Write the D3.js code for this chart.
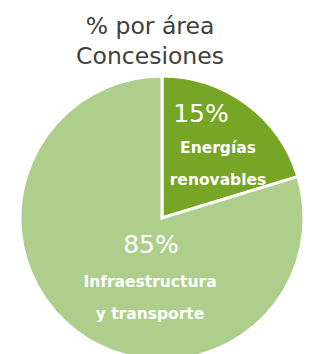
<!DOCTYPE html>
<html>
<head>
<meta charset="utf-8">
<script src="https://cdn.jsdelivr.net/npm/d3@7"></script>
<style>
  body { margin: 0; background: #fff; }
  text { font-family: 'DejaVu Sans', Verdana, sans-serif; }
</style>
</head>
<body>
<div id="chart"></div>
<script>
// slice shares as drawn in the picture; printed labels are as in the original
let categories = ['Energías renovables', 'Infraestructura y transporte']
let shares = [20.3, 79.7]
let pctLabels = ['15%', '85%']
let nameLines = [['Energías', 'renovables'], ['Infraestructura', 'y transporte']]
let colors = ['#77a526', '#aecf8c']
let titleLines = ['% por área', 'Concesiones']

let width = 309
let height = 354
let cx = 162
let cy = 218
let radius = 142

let svg = d3
  .select('#chart')
  .append('svg')
  .attr('width', width)
  .attr('height', height)

svg
  .selectAll('.title')
  .data(titleLines)
  .enter()
  .append('text')
  .attr('class', 'title')
  .attr('x', 150)
  .attr('y', (d, i) => 34 + i * 30)
  .attr('text-anchor', 'middle')
  .attr('font-size', 23.5)
  .attr('fill', '#404040')
  .text(d => d)

let pie = d3.pie().sort(null).value(d => d)
let arc = d3.arc().innerRadius(0).outerRadius(radius)

let g = svg.append('g').attr('transform', 'translate(' + cx + ',' + cy + ')')

let arcs = pie(shares)

g.selectAll('.slice')
  .data(arcs)
  .enter()
  .append('path')
  .attr('class', 'slice')
  .attr('d', arc)
  .attr('fill', (d, i) => colors[i])
  .attr('stroke', '#fff')
  .attr('stroke-width', 3)
  .attr('stroke-linejoin', 'miter')

// label anchors (offset from centre)
let pctPos = [[39, -96], [-11, 35]]
let namePos = [[56, -65], [-12, 69]]

g.selectAll('.pct')
  .data(arcs)
  .enter()
  .append('text')
  .attr('class', 'pct')
  .attr('x', (d, i) => pctPos[i][0])
  .attr('y', (d, i) => pctPos[i][1])
  .attr('text-anchor', 'middle')
  .attr('font-size', 25)
  .attr('fill', '#fff')
  .text((d, i) => pctLabels[i])

arcs.forEach((d, i) => {
  g.selectAll('.name' + i)
    .data(nameLines[i])
    .enter()
    .append('text')
    .attr('class', 'name' + i)
    .attr('x', namePos[i][0])
    .attr('y', (t, j) => namePos[i][1] + j * 32)
    .attr('text-anchor', 'middle')
    .attr('font-size', 15.5)
    .attr('font-weight', 'bold')
    .attr('fill', '#fff')
    .text(t => t)
})
</script>
</body>
</html>
